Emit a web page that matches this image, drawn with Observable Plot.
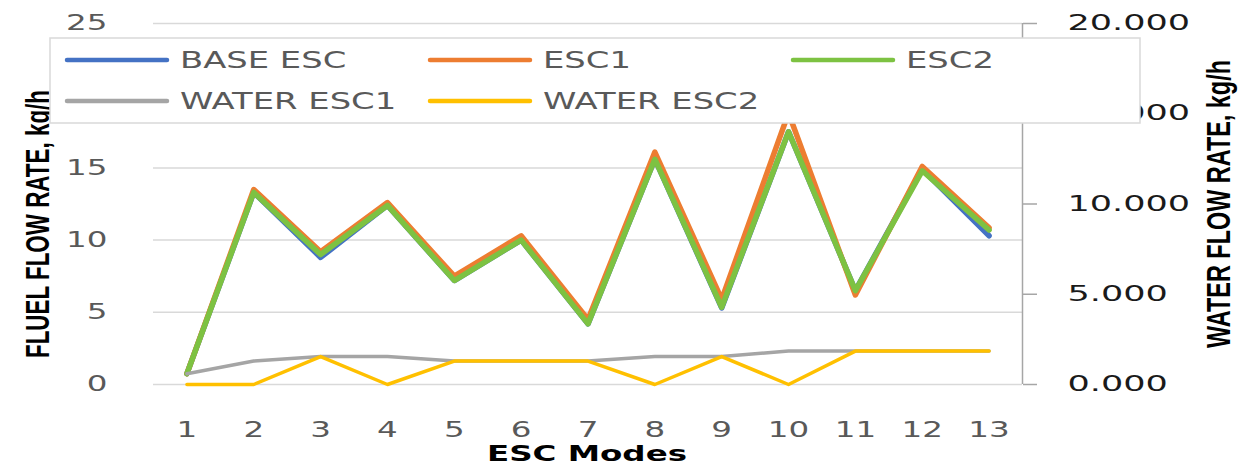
<!DOCTYPE html>
<html><head><meta charset="utf-8">
<script src="https://cdn.jsdelivr.net/npm/d3@7"></script>
<script src="https://cdn.jsdelivr.net/npm/@observablehq/plot@0.6"></script>
<style>
html,body{margin:0;padding:0;background:#fff;}
#chart{position:relative;width:1250px;height:465px;overflow:hidden;}
</style></head><body><div id="chart"></div>
<script>
// ---- data ----
const modes = [1, 2, 3, 4, 5, 6, 7, 8, 9, 10, 11, 12, 13];
const baseEsc   = [0.75, 13.3, 8.8, 12.4, 7.2, 10.0, 4.2, 15.6, 5.3, 17.5, 6.5, 14.9, 10.3];
const esc1      = [0.75, 13.5, 9.2, 12.6, 7.5, 10.3, 4.5, 16.1, 5.9, 18.8, 6.2, 15.1, 10.85];
const esc2      = [0.75, 13.3, 9.0, 12.4, 7.2, 10.0, 4.2, 15.6, 5.35, 17.5, 6.5, 14.8, 10.7];
const waterEsc1 = [0.6, 1.3, 1.55, 1.55, 1.3, 1.3, 1.3, 1.55, 1.55, 1.85, 1.85, 1.85, 1.85];
const waterEsc2 = [0, 0, 1.55, 0, 1.3, 1.3, 1.3, 0, 1.55, 0, 1.85, 1.85, 1.85];
const seriesNames = ["BASE ESC", "ESC1", "ESC2", "WATER ESC1", "WATER ESC2"];
const seriesColors = ["#4472C4", "#ED7D31", "#7DC242", "#A5A5A5", "#FFC000"];
const fuelTicks = [0, 5, 10, 15, 20, 25];
const waterTicks = [0, 5, 10, 15, 20];
const fuelDomain = [0, 25];
const waterDomain = [0, 20];
const xLabel = "ESC Modes";
const yLabelLeft = "FLUEL FLOW RATE, kg/h";
const yLabelRight = "WATER FLOW RATE, kg/h";

// ---- build table ----
const ratio = fuelDomain[1] / waterDomain[1];
const rows = [];
[baseEsc, esc1, esc2].forEach((arr, k) => arr.forEach((v, i) => rows.push({series: seriesNames[k], mode: modes[i], v, y: v})));
[waterEsc1, waterEsc2].forEach((arr, k) => arr.forEach((v, i) => rows.push({series: seriesNames[3 + k], mode: modes[i], v, y: v * ratio})));
const xDomain = [modes[0] - 0.5, modes[modes.length - 1] + 0.5];

const lineMarks = seriesNames.map((name, k) =>
  Plot.line(rows.filter(d => d.series === name), {
    x: "mode", y: "y", stroke: seriesColors[k],
    strokeWidth: k < 3 ? 5.5 : 3.5, strokeLinejoin: "round", strokeLinecap: "round"
  })
);

const plot = Plot.plot({
  width: 1250, height: 465,
  marginLeft: 153, marginRight: 228, marginTop: 23, marginBottom: 81,
  x: {type: "linear", domain: xDomain},
  y: {domain: fuelDomain},
  style: {fontFamily: "DejaVu Sans", background: "white", overflow: "visible"},
  marks: [
    Plot.gridY(fuelTicks, {stroke: "#d9d9d9", strokeOpacity: 1, strokeWidth: 1.5}),
    Plot.ruleX([xDomain[1]], {stroke: "#a6a6a6", strokeWidth: 1.5}),
    Plot.axisY(fuelTicks, {anchor: "left", tickSize: 0, tickPadding: 46, fontSize: 21, fill: "#595959", label: null}),
    Plot.axisY(waterTicks.map(t => t * ratio), {anchor: "right", tickSize: 14, tickPadding: 31, stroke: "#a6a6a6", strokeWidth: 1.5, fontSize: 21, fill: "#1a1a1a", label: null, tickFormat: d => (d / ratio).toFixed(3)}),
    Plot.axisX(modes, {tickSize: 0, tickPadding: 38, fontSize: 21, fill: "#595959", label: null, tickFormat: d => String(d)}),
    ...lineMarks
  ]
});
document.getElementById("chart").appendChild(plot);

// horizontal stretch of tick labels to match the reference's wide type
const svg = d3.select(plot);
function stretch(sel, s) {
  sel.each(function() {
    const t = this.getAttribute("transform");
    if (t) this.setAttribute("transform", t + ` scale(${s},1)`);
    else {
      const x = +this.getAttribute("x") || 0;
      this.setAttribute("transform", `translate(${x},0) scale(${s},1) translate(${-x},0)`);
    }
  });
}
svg.selectAll('g[aria-label$="tick label"]').nodes().forEach(g => {
  const anchor = g.getAttribute("text-anchor");
  const s = anchor === "start" ? 1.67 : 1.55;
  stretch(d3.select(g).selectAll("text"), s);
});

// axis titles
svg.append("text")
  .attr("transform", "translate(37,224) rotate(-90)")
  .attr("text-anchor", "middle").attr("dy", "0.35em")
  .attr("font-family", "Liberation Sans Narrow, Liberation Sans").attr("font-weight", "bold")
  .attr("font-size", 33).attr("fill", "#000")
  .attr("textLength", 268).attr("lengthAdjust", "spacingAndGlyphs")
  .text(yLabelLeft);
svg.append("text")
  .attr("transform", "translate(1218,204) rotate(-90)")
  .attr("text-anchor", "middle").attr("dy", "0.35em")
  .attr("font-family", "Liberation Sans Narrow, Liberation Sans").attr("font-weight", "bold")
  .attr("font-size", 33).attr("fill", "#000")
  .attr("textLength", 288).attr("lengthAdjust", "spacingAndGlyphs")
  .text(yLabelRight);
svg.append("text")
  .attr("x", 587).attr("y", 461)
  .attr("text-anchor", "middle")
  .attr("font-family", "DejaVu Sans").attr("font-weight", "bold")
  .attr("font-size", 22).attr("fill", "#000")
  .attr("textLength", 200).attr("lengthAdjust", "spacingAndGlyphs")
  .text(xLabel);

// legend overlay
const lg = svg.append("g").attr("aria-label", "legend");
lg.append("rect").attr("x", 50).attr("y", 38).attr("width", 1090).attr("height", 85)
  .attr("fill", "white").attr("stroke", "#d9d9d9").attr("stroke-width", 1.5);
const colX = [67, 430, 793], rowY = [60, 101];
seriesNames.forEach((name, k) => {
  const cx = colX[k % 3], cy = rowY[Math.floor(k / 3)];
  lg.append("line").attr("x1", cx).attr("x2", cx + 100).attr("y1", cy).attr("y2", cy)
    .attr("stroke", seriesColors[k]).attr("stroke-width", 4.5).attr("stroke-linecap", "round");
  const tx = cx + 113;
  lg.append("text")
    .attr("transform", `translate(${tx},${cy}) scale(1.47,1)`)
    .attr("text-anchor", "start")
    .attr("dy", "0.36em").attr("font-family", "DejaVu Sans").attr("font-size", 23)
    .attr("fill", "#595959").text(name);
});
</script>
</body></html>
